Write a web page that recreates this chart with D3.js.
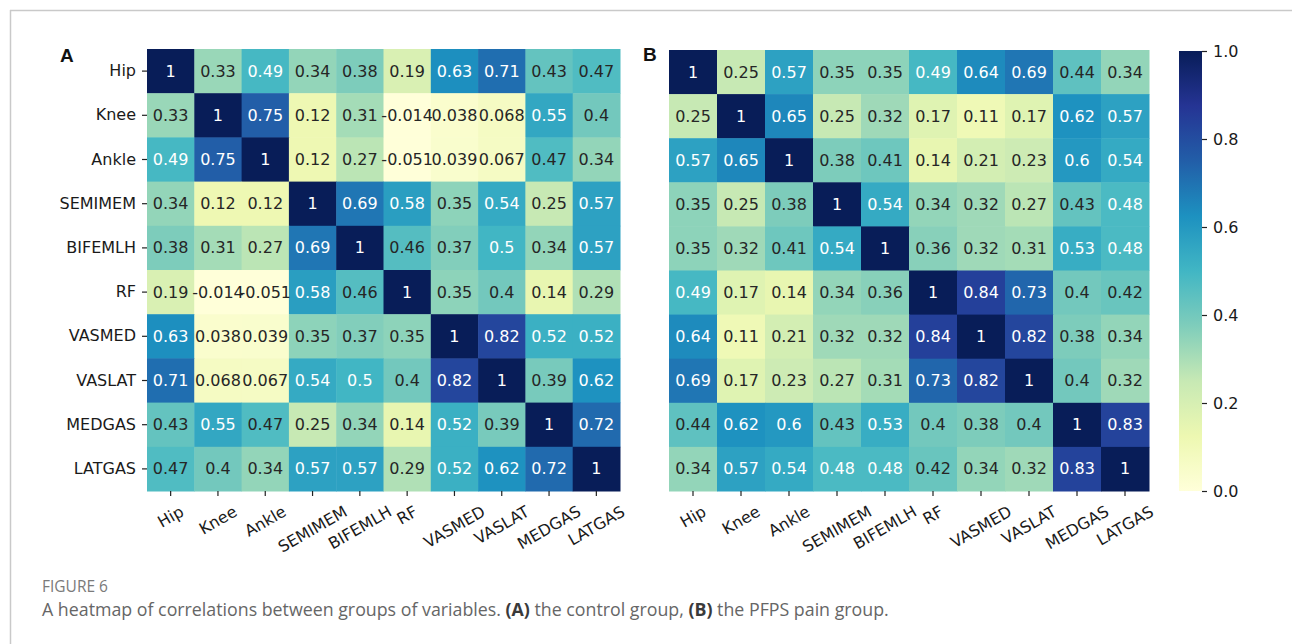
<!DOCTYPE html>
<html>
<head>
<meta charset="utf-8">
<script src="https://cdn.jsdelivr.net/npm/d3@7"></script>
<style>
  body { margin: 0; background: #fff; }
  svg { display: block; }
</style>
</head>
<body>
<div id="chart"><svg width="1292" height="644"></svg></div>
<script>
// variable names used for both axes
var variables = ['Hip', 'Knee', 'Ankle', 'SEMIMEM', 'BIFEMLH', 'RF', 'VASMED', 'VASLAT', 'MEDGAS', 'LATGAS'];

// correlations, control group (A)
var controlValues = [
  [1, 0.33, 0.49, 0.34, 0.38, 0.19, 0.63, 0.71, 0.43, 0.47],
  [0.33, 1, 0.75, 0.12, 0.31, -0.014, 0.038, 0.068, 0.55, 0.4],
  [0.49, 0.75, 1, 0.12, 0.27, -0.051, 0.039, 0.067, 0.47, 0.34],
  [0.34, 0.12, 0.12, 1, 0.69, 0.58, 0.35, 0.54, 0.25, 0.57],
  [0.38, 0.31, 0.27, 0.69, 1, 0.46, 0.37, 0.5, 0.34, 0.57],
  [0.19, -0.014, -0.051, 0.58, 0.46, 1, 0.35, 0.4, 0.14, 0.29],
  [0.63, 0.038, 0.039, 0.35, 0.37, 0.35, 1, 0.82, 0.52, 0.52],
  [0.71, 0.068, 0.067, 0.54, 0.5, 0.4, 0.82, 1, 0.39, 0.62],
  [0.43, 0.55, 0.47, 0.25, 0.34, 0.14, 0.52, 0.39, 1, 0.72],
  [0.47, 0.4, 0.34, 0.57, 0.57, 0.29, 0.52, 0.62, 0.72, 1]
];

// correlations, PFPS pain group (B)
var painValues = [
  [1, 0.25, 0.57, 0.35, 0.35, 0.49, 0.64, 0.69, 0.44, 0.34],
  [0.25, 1, 0.65, 0.25, 0.32, 0.17, 0.11, 0.17, 0.62, 0.57],
  [0.57, 0.65, 1, 0.38, 0.41, 0.14, 0.21, 0.23, 0.6, 0.54],
  [0.35, 0.25, 0.38, 1, 0.54, 0.34, 0.32, 0.27, 0.43, 0.48],
  [0.35, 0.32, 0.41, 0.54, 1, 0.36, 0.32, 0.31, 0.53, 0.48],
  [0.49, 0.17, 0.14, 0.34, 0.36, 1, 0.84, 0.73, 0.4, 0.42],
  [0.64, 0.11, 0.21, 0.32, 0.32, 0.84, 1, 0.82, 0.38, 0.34],
  [0.69, 0.17, 0.23, 0.27, 0.31, 0.73, 0.82, 1, 0.4, 0.32],
  [0.44, 0.62, 0.6, 0.43, 0.53, 0.4, 0.38, 0.4, 1, 0.83],
  [0.34, 0.57, 0.54, 0.48, 0.48, 0.42, 0.34, 0.32, 0.83, 1]
];

var colorbarTicks = [0, 0.2, 0.4, 0.6, 0.8, 1.0];

(function() {
    var svg = d3.select('div#chart svg'),
    font = "'DejaVu Sans', sans-serif",
    fontSize = 16,
    stops = d3.schemeYlGnBu[9],
    color = d3.scaleLinear()
	.domain(stops.map(function(d, i) { return i / (stops.length - 1); }))
	.range(stops)
	.interpolate(d3.interpolateRgb)
	.clamp(true),
    locale = d3.formatLocale({decimal: '.', thousands: ',', grouping: [3], currency: ['', ''], minus: '-'}),
    fmt = locale.format('.2~g');

    // relative luminance as seaborn uses it to pick the annotation colour
    function luminance(c) {
	var rgb = d3.rgb(c);
	var lin = [rgb.r, rgb.g, rgb.b].map(function(v) {
	    v = v / 255;
	    return v <= 0.03928 ? v / 12.92 : Math.pow((v + 0.055) / 1.055, 2.4);
	});
	return 0.2126 * lin[0] + 0.7152 * lin[1] + 0.0722 * lin[2];
    }

    // frame lines of the figure box
    svg.append('line').attr('x1', 10).attr('x2', 1292).attr('y1', 10.5).attr('y2', 10.5)
	.attr('stroke', '#c9c9c9').attr('stroke-width', 1.5);
    svg.append('line').attr('x1', 10.5).attr('x2', 10.5).attr('y1', 10).attr('y2', 644)
	.attr('stroke', '#c9c9c9').attr('stroke-width', 1.5);

    function drawHeatmap(values, box, showY, letter, letterPos) {
	var g = svg.append('g'),
	x = d3.scaleBand().domain(variables).range([box.x0, box.x1]),
	y = d3.scaleBand().domain(variables).range([box.y0, box.y1]),
	cells = [];
	values.forEach(function(row, i) {
	    row.forEach(function(v, j) {
		cells.push({row: variables[i], col: variables[j], value: v});
	    });
	});
	g.selectAll('rect.cell').data(cells).enter().append('rect')
	    .classed('cell', true)
	    .attr('x', function(d) { return x(d.col); })
	    .attr('y', function(d) { return y(d.row); })
	    .attr('width', x.bandwidth() + 0.5)
	    .attr('height', y.bandwidth() + 0.5)
	    .attr('fill', function(d) { return color(d.value); });
	g.selectAll('text.annot').data(cells).enter().append('text')
	    .classed('annot', true)
	    .attr('x', function(d) { return x(d.col) + x.bandwidth() / 2; })
	    .attr('y', function(d) { return y(d.row) + y.bandwidth() / 2; })
	    .attr('text-anchor', 'middle')
	    .attr('dominant-baseline', 'central')
	    .style('font-family', font)
	    .style('font-size', fontSize + 'px')
	    .attr('fill', function(d) { return luminance(color(d.value)) > 0.408 ? '#262626' : '#ffffff'; })
	    .text(function(d) { return fmt(d.value); });

	// x axis: ticks and rotated labels
	var xa = g.append('g').attr('transform', 'translate(0,' + box.y1 + ')')
	    .call(d3.axisBottom(x).tickSize(5).tickPadding(0).tickFormat(''));
	xa.select('.domain').remove();
	xa.selectAll('.tick line').attr('stroke', '#222').attr('stroke-width', 1.2);
	var fh = fontSize * 1.16, top = box.y1 + 11, ang = 30 * Math.PI / 180;
	variables.forEach(function(name) {
	    var t = g.append('text')
		.style('font-family', font)
		.style('font-size', fontSize + 'px')
		.attr('fill', '#1a1a1a')
		.attr('text-anchor', 'middle')
		.attr('dominant-baseline', 'central')
		.text(name);
	    var len = t.node().getComputedTextLength(),
	    h = len * Math.sin(ang) + fh * Math.cos(ang),
	    cx = x(name) + x.bandwidth() / 2,
	    cy = top + h / 2;
	    t.attr('transform', 'translate(' + cx + ',' + cy + ') rotate(-30)');
	});

	// y axis labels only on the left panel
	if (showY) {
	    var ya = g.append('g').attr('transform', 'translate(' + box.x0 + ',0)')
		.call(d3.axisLeft(y).tickSize(5).tickPadding(6));
	    ya.select('.domain').remove();
	    ya.selectAll('.tick line').attr('stroke', '#222').attr('stroke-width', 1.2);
	    ya.selectAll('.tick text')
		.style('font-family', font)
		.style('font-size', fontSize + 'px')
		.attr('fill', '#1a1a1a');
	}

	// panel letter
	svg.append('text')
	    .attr('x', letterPos[0]).attr('y', letterPos[1])
	    .style('font-family', "'Liberation Sans', Arial, sans-serif")
	    .style('font-weight', 'bold')
	    .style('font-size', '19px')
	    .attr('fill', '#111')
	    .text(letter);
    }

    drawHeatmap(controlValues, {x0: 147, x1: 620, y0: 49, y1: 491}, true, 'A', [60, 62]);
    drawHeatmap(painValues, {x0: 669, x1: 1149, y0: 50, y1: 491}, false, 'B', [643, 61]);

    // colour bar
    var cb = {x0: 1179, x1: 1202, y0: 51, y1: 491},
    cy = d3.scaleLinear().domain([0, 1]).range([cb.y1, cb.y0]),
    grad = svg.append('defs').append('linearGradient')
	.attr('id', 'cbar').attr('x1', 0).attr('x2', 0).attr('y1', 1).attr('y2', 0);
    grad.selectAll('stop').data(stops).enter().append('stop')
	.attr('offset', function(d, i) { return (i / (stops.length - 1) * 100) + '%'; })
	.attr('stop-color', function(d) { return d; });
    svg.append('rect')
	.attr('x', cb.x0).attr('y', cb.y0)
	.attr('width', cb.x1 - cb.x0).attr('height', cb.y1 - cb.y0)
	.attr('fill', 'url(#cbar)');
    var ca = svg.append('g').attr('transform', 'translate(' + cb.x1 + ',0)')
	.call(d3.axisRight(cy).tickValues(colorbarTicks).tickSize(5).tickPadding(6).tickFormat(d3.format('.1f')));
    ca.select('.domain').remove();
    ca.selectAll('.tick line').attr('stroke', '#222').attr('stroke-width', 1.2);
    ca.selectAll('.tick text')
	.style('font-family', font)
	.style('font-size', fontSize + 'px')
	.attr('fill', '#1a1a1a');

    // caption
    svg.append('text')
	.attr('x', 42).attr('y', 592)
	.style('font-family', "'Open Sans', sans-serif")
	.style('font-size', '15.5px')
	.attr('fill', '#7a7a7a')
	.text('FIGURE 6');
    var cap = svg.append('text')
	.attr('x', 42).attr('y', 616)
	.style('font-family', "'Open Sans', sans-serif")
	.style('font-size', '17.8px')
	.attr('fill', '#666');
    cap.append('tspan').text('A heatmap of correlations between groups of variables. ');
    cap.append('tspan').style('font-weight', 'bold').attr('fill', '#3a3a3a').text('(A)');
    cap.append('tspan').text(' the control group, ');
    cap.append('tspan').style('font-weight', 'bold').attr('fill', '#3a3a3a').text('(B)');
    cap.append('tspan').text(' the PFPS pain group.');
}).call(this);
</script>
</body>
</html>
